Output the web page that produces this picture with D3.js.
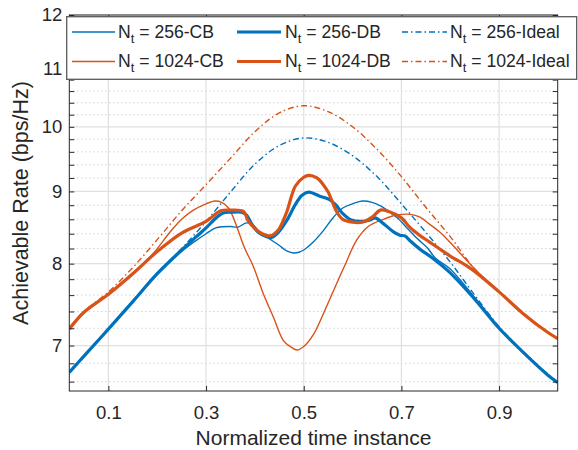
<!DOCTYPE html>
<html>
<head>
<meta charset="utf-8">
<script src="https://cdn.jsdelivr.net/npm/d3@7"></script>
<style>
body { margin: 0; background: #fff; }
text { font-family: "Liberation Sans", Arial, Helvetica, sans-serif; fill: #262626; }
</style>
</head>
<body>
<div id="chart"></div>
<script>
// Data (x = normalized time, y = rate in bps/Hz)
let xIdeal = [0.02, 0.05, 0.1, 0.15, 0.2, 0.25, 0.3, 0.35, 0.4, 0.45, 0.5, 0.55, 0.6, 0.65, 0.7, 0.75, 0.8, 0.85, 0.9, 0.95, 1.0, 1.02];
let ideal256 = [6.71, 6.89, 7.2, 7.53, 7.88, 8.2, 8.57, 8.99, 9.41, 9.7, 9.82, 9.75, 9.54, 9.22, 8.82, 8.42, 8.02, 7.6, 7.22, 6.93, 6.68, 6.6];
let ideal1024 = [7.21, 7.4, 7.64, 7.95, 8.32, 8.72, 9.1, 9.5, 9.92, 10.23, 10.35, 10.25, 10.0, 9.64, 9.22, 8.77, 8.36, 7.93, 7.65, 7.38, 7.15, 7.08];

let xDB256 = [0.02, 0.05, 0.1, 0.15, 0.2, 0.25, 0.28, 0.3, 0.322, 0.335, 0.35, 0.373, 0.383, 0.393, 0.407, 0.424, 0.434, 0.448, 0.465, 0.482, 0.496, 0.51, 0.533, 0.553, 0.566, 0.58, 0.597, 0.62, 0.636, 0.646, 0.663, 0.683, 0.697, 0.707, 0.72, 0.74, 0.76, 0.8, 0.85, 0.9, 0.95, 1.0, 1.02];
let db256 = [6.70, 6.88, 7.19, 7.52, 7.87, 8.18, 8.36, 8.48, 8.63, 8.69, 8.70, 8.70, 8.66, 8.54, 8.42, 8.36, 8.35, 8.42, 8.58, 8.80, 8.94, 8.99, 8.93, 8.88, 8.80, 8.68, 8.59, 8.57, 8.59, 8.62, 8.54, 8.43, 8.38, 8.37, 8.29, 8.18, 8.09, 7.88, 7.55, 7.20, 6.92, 6.67, 6.59];

let xCB256 = [0.02, 0.05, 0.1, 0.15, 0.2, 0.25, 0.28, 0.3, 0.32, 0.35, 0.365, 0.383, 0.396, 0.41, 0.43, 0.45, 0.465, 0.48, 0.49, 0.5, 0.52, 0.541, 0.561, 0.58, 0.6, 0.62, 0.64, 0.66, 0.68, 0.693, 0.713, 0.733, 0.753, 0.77, 0.8, 0.85, 0.9, 0.95, 1.0, 1.02];
let cb256 = [6.70, 6.88, 7.19, 7.52, 7.86, 8.16, 8.31, 8.40, 8.48, 8.50, 8.49, 8.55, 8.52, 8.42, 8.33, 8.24, 8.17, 8.14, 8.15, 8.18, 8.29, 8.45, 8.63, 8.76, 8.82, 8.86, 8.84, 8.78, 8.68, 8.61, 8.47, 8.33, 8.21, 8.07, 7.93, 7.57, 7.21, 6.92, 6.67, 6.59];

let xDB1024 = [0.02, 0.05, 0.1, 0.15, 0.2, 0.25, 0.3, 0.33, 0.35, 0.377, 0.386, 0.4, 0.415, 0.43, 0.44, 0.45, 0.465, 0.483, 0.5, 0.51, 0.527, 0.54, 0.55, 0.568, 0.58, 0.6, 0.62, 0.64, 0.657, 0.674, 0.7, 0.717, 0.737, 0.757, 0.777, 0.8, 0.834, 0.85, 0.9, 0.95, 1.0, 1.02];
let db1024 = [7.19, 7.39, 7.61, 7.87, 8.16, 8.41, 8.57, 8.72, 8.73, 8.71, 8.58, 8.47, 8.40, 8.37, 8.40, 8.47, 8.70, 9.08, 9.21, 9.24, 9.20, 9.10, 8.99, 8.70, 8.60, 8.56, 8.56, 8.63, 8.73, 8.71, 8.62, 8.49, 8.38, 8.29, 8.20, 8.10, 7.97, 7.90, 7.64, 7.37, 7.15, 7.08];

let xCB1024 = [0.02, 0.05, 0.1, 0.15, 0.19, 0.226, 0.25, 0.274, 0.3, 0.318, 0.332, 0.346, 0.356, 0.366, 0.378, 0.397, 0.417, 0.438, 0.458, 0.472, 0.486, 0.5, 0.52, 0.54, 0.567, 0.585, 0.608, 0.632, 0.663, 0.69, 0.718, 0.738, 0.758, 0.779, 0.8, 0.834, 0.86, 0.9, 0.95, 1.0, 1.02];
let cb1024 = [7.20, 7.39, 7.61, 7.88, 8.12, 8.42, 8.60, 8.73, 8.82, 8.86, 8.84, 8.76, 8.62, 8.44, 8.22, 7.96, 7.62, 7.33, 7.06, 6.99, 6.95, 6.99, 7.13, 7.37, 7.74, 7.99, 8.31, 8.50, 8.60, 8.66, 8.67, 8.63, 8.53, 8.42, 8.28, 8.04, 7.87, 7.64, 7.37, 7.15, 7.08];

// Ticks
let xTicks = [0.1, 0.3, 0.5, 0.7, 0.9];
let yTicks = [7, 8, 9, 10, 11, 12];
let yMinor = [6.6, 6.8, 7.2, 7.4, 7.6, 7.8, 8.2, 8.4, 8.6, 8.8, 9.2, 9.4, 9.6, 9.8, 10.2, 10.4, 10.6, 10.8, 11.2, 11.4, 11.6, 11.8];

let blue = "#0072bd";
let orange = "#d95319";

// Series list: label, x, y, colour, width, dash
let series = [
    {label: "256-CB", x: xCB256, y: cb256, color: blue, width: 1.4, dash: null},
    {label: "256-DB", x: xDB256, y: db256, color: blue, width: 3.2, dash: null},
    {label: "256-Ideal", x: xIdeal, y: ideal256, color: blue, width: 1.4, dash: "6,3,1.5,3"},
    {label: "1024-CB", x: xCB1024, y: cb1024, color: orange, width: 1.4, dash: null},
    {label: "1024-DB", x: xDB1024, y: db1024, color: orange, width: 3.2, dash: null},
    {label: "1024-Ideal", x: xIdeal, y: ideal1024, color: orange, width: 1.4, dash: "6,3,1.5,3"}
];

// SVG area
let svgWidth = 578;
let svgHeight = 450;

let plot = {left: 69.3, right: 557.7, top: 15, bottom: 391};

let svg = d3.select("#chart")
    .append("svg")
    .attr("width", svgWidth)
    .attr("height", svgHeight);

// Scales
let xScale = d3.scaleLinear()
    .domain([0.02, 1.02])
    .range([plot.left, plot.right]);

let yScale = d3.scaleLog()
    .domain([6.5, 12])
    .range([plot.bottom, plot.top]);

// Minor grid (dotted)
svg.append("g")
    .selectAll("line")
    .data(yMinor)
    .enter()
    .append("line")
    .attr("x1", plot.left)
    .attr("x2", plot.right)
    .attr("y1", d => yScale(d))
    .attr("y2", d => yScale(d))
    .attr("stroke", "#bdbdbd")
    .attr("stroke-width", 1)
    .attr("stroke-dasharray", "1,3");

// Major grid
svg.append("g")
    .selectAll("line")
    .data(yTicks)
    .enter()
    .append("line")
    .attr("x1", plot.left)
    .attr("x2", plot.right)
    .attr("y1", d => yScale(d))
    .attr("y2", d => yScale(d))
    .attr("stroke", "#e0e0e0")
    .attr("stroke-width", 1.2);

svg.append("g")
    .selectAll("line")
    .data(xTicks)
    .enter()
    .append("line")
    .attr("x1", d => xScale(d))
    .attr("x2", d => xScale(d))
    .attr("y1", plot.top)
    .attr("y2", plot.bottom)
    .attr("stroke", "#e0e0e0")
    .attr("stroke-width", 1.2);

// Lines
let lineGen = d3.line()
    .x(d => xScale(d[0]))
    .y(d => yScale(d[1]))
    .curve(d3.curveCatmullRom.alpha(0.5));

svg.append("clipPath")
    .attr("id", "clip")
    .append("rect")
    .attr("x", plot.left)
    .attr("y", plot.top)
    .attr("width", plot.right - plot.left)
    .attr("height", plot.bottom - plot.top);

let lineOrder = [2, 5, 0, 3, 1, 4];
let linesGroup = svg.append("g").attr("clip-path", "url(#clip)");
lineOrder.forEach(function(i) {
    let s = series[i];
    linesGroup.append("path")
        .datum(s.x.map((x, j) => [x, s.y[j]]))
        .attr("d", lineGen)
        .attr("fill", "none")
        .attr("stroke", s.color)
        .attr("stroke-width", s.width)
        .attr("stroke-dasharray", s.dash)
        .attr("stroke-linejoin", "round");
});

// Axes with inward ticks
function styleAxis(g) {
    g.select(".domain").remove();
    g.selectAll(".tick line").attr("stroke", "#262626").attr("stroke-width", 1);
    g.selectAll(".tick text")
        .attr("fill", "#262626")
        .style("font-size", "18.5px")
        .style("font-family", "'Liberation Sans', Arial, sans-serif");
}

svg.append("g")
    .attr("transform", `translate(0, ${plot.bottom})`)
    .call(d3.axisBottom(xScale).tickValues(xTicks).tickSize(-5).tickPadding(15).tickFormat(d3.format(".1f")))
    .call(styleAxis);

svg.append("g")
    .attr("transform", `translate(0, ${plot.top})`)
    .call(d3.axisTop(xScale).tickValues(xTicks).tickSize(-5).tickFormat(""))
    .call(styleAxis);

svg.append("g")
    .attr("transform", `translate(${plot.left}, 0)`)
    .call(d3.axisLeft(yScale).tickValues(yTicks).tickSize(-5).tickPadding(7).tickFormat(d3.format("d")))
    .call(styleAxis);

svg.append("g")
    .attr("transform", `translate(${plot.left}, 0)`)
    .call(d3.axisLeft(yScale).tickValues(yMinor).tickSize(-5).tickFormat(""))
    .call(styleAxis);

svg.append("g")
    .attr("transform", `translate(${plot.right}, 0)`)
    .call(d3.axisRight(yScale).tickValues(yTicks.concat(yMinor)).tickSize(-5).tickFormat(""))
    .call(styleAxis);

// Axes box
svg.append("rect")
    .attr("x", plot.left)
    .attr("y", plot.top)
    .attr("width", plot.right - plot.left)
    .attr("height", plot.bottom - plot.top)
    .attr("fill", "none")
    .attr("stroke", "#262626")
    .attr("stroke-width", 1);

// Axis labels
svg.append("text")
    .attr("x", (plot.left + plot.right) / 2)
    .attr("y", 444.5)
    .attr("text-anchor", "middle")
    .style("font-size", "21px")
    .text("Normalized time instance");

svg.append("text")
    .attr("transform", `translate(28, ${(plot.top + plot.bottom) / 2}) rotate(-90)`)
    .attr("text-anchor", "middle")
    .style("font-size", "21.5px")
    .text("Achievable Rate (bps/Hz)");

// Legend
let legend = svg.append("g");

legend.append("rect")
    .attr("x", 66.7)
    .attr("y", 16.7)
    .attr("width", 510)
    .attr("height", 62.6)
    .attr("fill", "#fff")
    .attr("stroke", "#595959")
    .attr("stroke-width", 1.3);

let rowY = [32, 61.5];
let colLine = [[72, 115], [237, 281], [402, 447]];
let colText = [118, 285, 450];

series.forEach(function(s, i) {
    let r = Math.floor(i / 3);
    let c = i % 3;
    legend.append("line")
        .attr("x1", colLine[c][0])
        .attr("x2", colLine[c][1])
        .attr("y1", rowY[r])
        .attr("y2", rowY[r])
        .attr("stroke", s.color)
        .attr("stroke-width", s.width)
        .attr("stroke-dasharray", s.dash);

    let t = legend.append("text")
        .attr("x", colText[c])
        .attr("y", rowY[r] + 5.5)
        .style("font-size", "17.6px")
        .style("white-space", "pre");
    t.append("tspan").text("N");
    t.append("tspan").attr("dy", 5).style("font-size", "13px").text("t");
    t.append("tspan").attr("dy", -5).text(" = " + s.label);
});
</script>
</body>
</html>
